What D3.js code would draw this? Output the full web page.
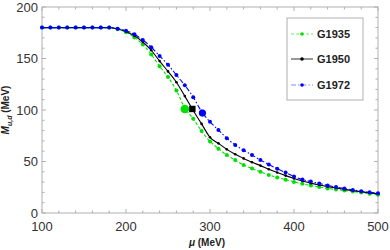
<!DOCTYPE html>
<html>
<head>
<meta charset="utf-8">
<script src="https://cdn.jsdelivr.net/npm/d3@7"></script>
<style>
  body { margin: 0; background: #fff; }
  text { font-family: "Liberation Sans", Arial, sans-serif; }
</style>
</head>
<body>
<div id="chart"></div>
<script>
var mu = d3.range(100, 501, 10);

var g1935 = [180, 180, 180, 180, 180, 180, 180, 180, 180, 178.5,
  175.5, 170.5, 163.5, 154, 142.5, 132, 119, 102, 91.5, 79.5,
  69.5, 62.5, 56.3, 51.5, 46.5, 43.2, 40, 37, 34.5, 32.3,
  30.2, 28.3, 26.7, 25.2, 23.9, 22.8, 21.8, 20.8, 19.8, 18.8, 17.6];

var g1950 = [180, 180, 180, 180, 180, 180, 180, 180, 180, 178.7,
  176.3, 172, 166, 158, 147.5, 137.5, 127, 113.5, 99.5, 86.5,
  73.5, 67.6, 61.8, 57, 53, 49.3, 46, 42.5, 39.3, 36.3,
  33.5, 31, 29, 27.2, 25.6, 24.2, 22.9, 21.7, 20.6, 19.5, 18.5];

var g1972 = [180, 180, 180, 180, 180, 180, 180, 180, 180, 179,
  177, 173.5, 168, 161, 152.5, 144, 134, 124, 112.5, 98.5,
  88.5, 80.6, 72.5, 66, 61, 56.3, 51.5, 47, 43, 39.2,
  35.5, 32.5, 30.5, 28.7, 26.8, 25.2, 23.8, 22.4, 21.2, 20.1, 19.2];

// critical points (big markers)
var critMu = [270, 279, 291];
var critM = [101, 101, 97];

var seriesNames = ["G1935", "G1950", "G1972"];
var xTicks = [100, 200, 300, 400, 500];
var yTicks = [0, 50, 100, 150, 200];

var svg = d3.select("#chart").append("svg").attr("width", 390).attr("height", 250),
    pL = 42, pR = 378, pT = 7, pB = 213;

var x = d3.scaleLinear().domain([100, 500]).range([pL, pR]);
var y = d3.scaleLinear().domain([0, 200]).range([pB, pT]);

var frameColor = "#b0b0b0";

// frame
svg.append("rect")
    .attr("x", pL).attr("y", pT)
    .attr("width", pR - pL).attr("height", pB - pT)
    .attr("fill", "none").attr("stroke", frameColor).attr("stroke-width", 1);

// ticks on all four sides (inward)
var xMinor = d3.range(100, 501, 20), yMinor = d3.range(0, 201, 10);
xMinor.forEach(function(v) {
  var len = xTicks.indexOf(v) >= 0 ? 4 : 2.5;
  svg.append("line").attr("x1", x(v)).attr("x2", x(v)).attr("y1", pB).attr("y2", pB - len)
    .attr("stroke", frameColor);
  svg.append("line").attr("x1", x(v)).attr("x2", x(v)).attr("y1", pT).attr("y2", pT + len)
    .attr("stroke", frameColor);
});
yMinor.forEach(function(v) {
  var len = yTicks.indexOf(v) >= 0 ? 4 : 2.5;
  svg.append("line").attr("x1", pL).attr("x2", pL + len).attr("y1", y(v)).attr("y2", y(v))
    .attr("stroke", frameColor);
  svg.append("line").attr("x1", pR).attr("x2", pR - len).attr("y1", y(v)).attr("y2", y(v))
    .attr("stroke", frameColor);
});

// tick labels
svg.append("g").selectAll("text").data(xTicks).enter().append("text")
    .attr("x", function(d) { return x(d); })
    .attr("y", 231)
    .attr("text-anchor", "middle")
    .attr("font-size", 13)
    .attr("fill", "#333")
    .text(function(d) { return d; });

svg.append("g").selectAll("text").data(yTicks).enter().append("text")
    .attr("x", 38)
    .attr("y", function(d) { return y(d) + 4.5; })
    .attr("text-anchor", "end")
    .attr("font-size", 13)
    .attr("fill", "#333")
    .text(function(d) { return d; });

// axis titles
var yl = svg.append("text")
    .attr("transform", "translate(9,110) rotate(-90)")
    .attr("text-anchor", "middle")
    .attr("font-size", 10)
    .attr("font-weight", "bold")
    .attr("fill", "#222");
yl.append("tspan").attr("font-style", "italic").text("M");
yl.append("tspan").attr("font-style", "italic").attr("font-size", 7).attr("dy", 2.5).text("u,d");
yl.append("tspan").attr("dy", -2.5).text(" (MeV)");

var xl = svg.append("text")
    .attr("x", 207).attr("y", 246)
    .attr("text-anchor", "middle")
    .attr("font-size", 10)
    .attr("font-weight", "bold")
    .attr("fill", "#222");
xl.append("tspan").attr("font-style", "italic").text("μ");
xl.append("tspan").text(" (MeV)");

// curves
var styles = [
  {data: g1935, color: "#00e000", dash: "3,2", r: 2, legendColor: "#66ee66"},
  {data: g1950, color: "#000000", dash: null, r: 1.3, legendColor: "#333333"},
  {data: g1972, color: "#0000ff", dash: "5,2,1.5,2", r: 2, legendColor: "#8888ff"}
];

var line = d3.line()
    .x(function(d) { return x(d[0]); })
    .y(function(d) { return y(d[1]); })
    .curve(d3.curveMonotoneX);

var plot = svg.append("g");

styles.forEach(function(s) {
  var pts = mu.map(function(m, i) { return [m, s.data[i]]; });
  plot.append("path")
      .attr("d", line(pts))
      .attr("fill", "none")
      .attr("stroke", s.color)
      .attr("stroke-width", 1.1)
      .attr("stroke-dasharray", s.dash);
  plot.append("g").selectAll("circle").data(pts).enter().append("circle")
      .attr("cx", function(d) { return x(d[0]); })
      .attr("cy", function(d) { return y(d[1]); })
      .attr("r", s.r)
      .attr("fill", s.color);
});

// critical point markers
plot.append("circle").attr("cx", x(critMu[0])).attr("cy", y(critM[0])).attr("r", 4.3).attr("fill", "#00e000");
plot.append("rect").attr("x", x(critMu[1]) - 3.2).attr("y", y(critM[1]) - 3.2)
    .attr("width", 6.4).attr("height", 6.4).attr("fill", "#000");
plot.append("circle").attr("cx", x(critMu[2])).attr("cy", y(critM[2])).attr("r", 3.6).attr("fill", "#0000ff");

// legend
var lg = svg.append("g");
lg.append("rect")
    .attr("x", 287).attr("y", 18).attr("width", 76).attr("height", 82)
    .attr("fill", "#fff").attr("stroke", frameColor);
var legY = [34, 59, 85];
styles.forEach(function(s, i) {
  lg.append("line")
      .attr("x1", 291).attr("x2", 313).attr("y1", legY[i]).attr("y2", legY[i])
      .attr("stroke", s.legendColor).attr("stroke-width", 1)
      .attr("stroke-dasharray", s.dash);
  lg.append("circle").attr("cx", 302).attr("cy", legY[i]).attr("r", 1.8).attr("fill", s.color);
  lg.append("text")
      .attr("x", 317).attr("y", legY[i] + 4)
      .attr("font-size", 11)
      .attr("font-weight", "bold")
      .attr("fill", "#222")
      .text(seriesNames[i]);
});
</script>
</body>
</html>
